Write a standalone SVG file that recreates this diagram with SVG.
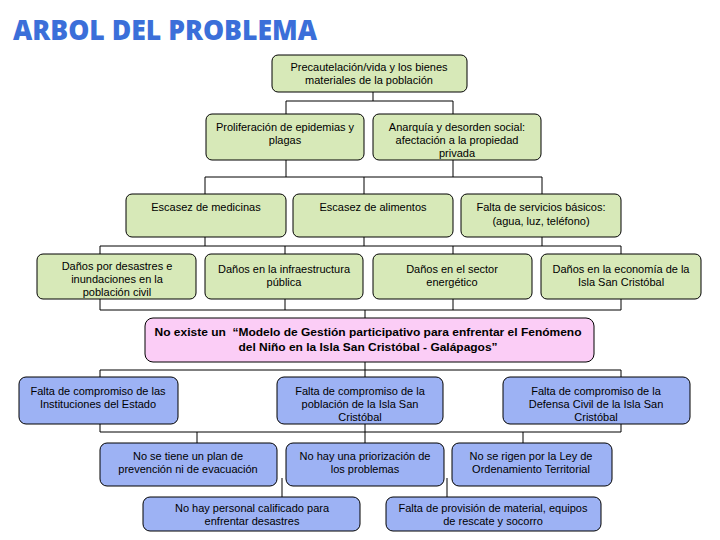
<svg xmlns="http://www.w3.org/2000/svg" width="720" height="540" viewBox="0 0 720 540">
<style>
.g{fill:#d7e9b8;stroke:#000;stroke-width:1}
.p{fill:#fbcdf6;stroke:#000;stroke-width:1}
.b{fill:#9db2f4;stroke:#000;stroke-width:1}
text{font-family:"Liberation Sans",Arial,sans-serif;font-size:11px;fill:#000;text-anchor:middle}
.bt{font-weight:bold;font-size:11px}
.title{font-family:"Open Sans","Liberation Sans",sans-serif;font-weight:800;font-size:29px;fill:#3b6fd9;text-anchor:start}
#connectors path{fill:none;stroke:#000;stroke-width:1}
</style>
<rect width="720" height="540" fill="#fff"/>
<text class="title" x="13" y="40" textLength="304" lengthAdjust="spacingAndGlyphs">ARBOL DEL PROBLEMA</text>
<g id="connectors">
<path d="M373 92V101M286 101H453M286 101V114M453 101V114"/>
<path d="M286 160V177M453 160V177M205 177H542M205 177V194M364 177V194M542 177V194"/>
<path d="M205 237V246M364 237V246M542 237V246M100 246H621M100 246V254M285 246V254M453 246V254M621 246V254"/>
<path d="M100 299V310M285 299V310M453 299V310M621 299V310M100 310H621M365 310V318"/>
<path d="M365 362V370M100 370H621M100 370V377M365 370V377M621 370V377"/>
<path d="M100 424V432M365 424V432M621 424V432M100 432H621M197 432V443M365 432V443M523 432V443"/>
<path d="M282 478V497M447 478V497"/>
</g>
<g id="n1"><rect class="g" x="272" y="55" width="195" height="37" rx="6"/><text x="369" y="71">Precautelación/vida y los bienes</text><text x="369" y="84">materiales de la población</text></g>
<g id="n2"><rect class="g" x="206" y="114" width="158" height="46" rx="6"/><text x="285" y="131">Proliferación de epidemias y</text><text x="285" y="144">plagas</text></g>
<g id="n3"><rect class="g" x="373" y="114" width="168" height="46" rx="6"/><text x="457" y="131">Anarquía  y desorden social:</text><text x="457" y="144">afectación a la propiedad</text><text x="457" y="157">privada</text></g>
<g id="n4"><rect class="g" x="126" y="194" width="160" height="43" rx="6"/><text x="206" y="211">Escasez de medicinas</text></g>
<g id="n5"><rect class="g" x="293" y="194" width="160" height="43" rx="6"/><text x="373" y="211">Escasez de alimentos</text></g>
<g id="n6"><rect class="g" x="461" y="194" width="160" height="43" rx="6"/><text x="541" y="211">Falta de servicios básicos:</text><text x="541" y="225">(agua, luz, teléfono)</text></g>
<g id="n7"><rect class="g" x="37" y="254" width="159" height="45" rx="6"/><text x="117" y="270">Daños por desastres e</text><text x="117" y="283">inundaciones en la</text><text x="117" y="296">población civil</text></g>
<g id="n8"><rect class="g" x="205" y="254" width="158" height="45" rx="6"/><text x="284" y="273">Daños en la infraestructura</text><text x="284" y="286">pública</text></g>
<g id="n9"><rect class="g" x="373" y="254" width="159" height="45" rx="6"/><text x="452" y="273">Daños en el sector</text><text x="452" y="286">energético</text></g>
<g id="n10"><rect class="g" x="541" y="254" width="160" height="45" rx="6"/><text x="621" y="273">Daños en la economía de la</text><text x="621" y="286">Isla San Cristóbal</text></g>
<g id="n11"><rect class="p" x="145" y="318" width="449" height="44" rx="8"/><text class="bt" x="368" y="336" textLength="427" lengthAdjust="spacingAndGlyphs" xml:space="preserve">No existe un  “Modelo de Gestión participativo para enfrentar el Fenómeno</text><text class="bt" x="368" y="351" textLength="259" lengthAdjust="spacingAndGlyphs">del Niño en la Isla San Cristóbal - Galápagos”</text></g>
<g id="n12"><rect class="b" x="19" y="377" width="159" height="47" rx="7"/><text x="98" y="395">Falta de compromiso de las</text><text x="98" y="408">Instituciones del Estado</text></g>
<g id="n13"><rect class="b" x="277" y="377" width="166" height="47" rx="7"/><text x="360" y="395">Falta de compromiso de la</text><text x="360" y="408">población de la Isla San</text><text x="360" y="421">Cristóbal</text></g>
<g id="n14"><rect class="b" x="503" y="377" width="187" height="47" rx="7"/><text x="596" y="395">Falta de compromiso de la</text><text x="596" y="408">Defensa Civil de la Isla San</text><text x="596" y="421">Cristóbal</text></g>
<g id="n15"><rect class="b" x="100" y="443" width="177" height="43" rx="7"/><text x="188" y="460">No se tiene un plan de</text><text x="188" y="473">prevención ni de evacuación</text></g>
<g id="n16"><rect class="b" x="286" y="443" width="158" height="43" rx="7"/><text x="365" y="460">No hay una priorización de</text><text x="365" y="473">los problemas</text></g>
<g id="n17"><rect class="b" x="452" y="443" width="160" height="43" rx="7"/><text x="531" y="460">No se rigen por la Ley de</text><text x="531" y="473">Ordenamiento Territorial</text></g>
<g id="n18"><rect class="b" x="143" y="497" width="217" height="34" rx="7"/><text x="252" y="512">No hay personal calificado para</text><text x="252" y="525">enfrentar desastres</text></g>
<g id="n19"><rect class="b" x="386" y="497" width="215" height="34" rx="7"/><text x="493" y="512">Falta de provisión de material, equipos</text><text x="493" y="525">de rescate y socorro</text></g>
</svg>
